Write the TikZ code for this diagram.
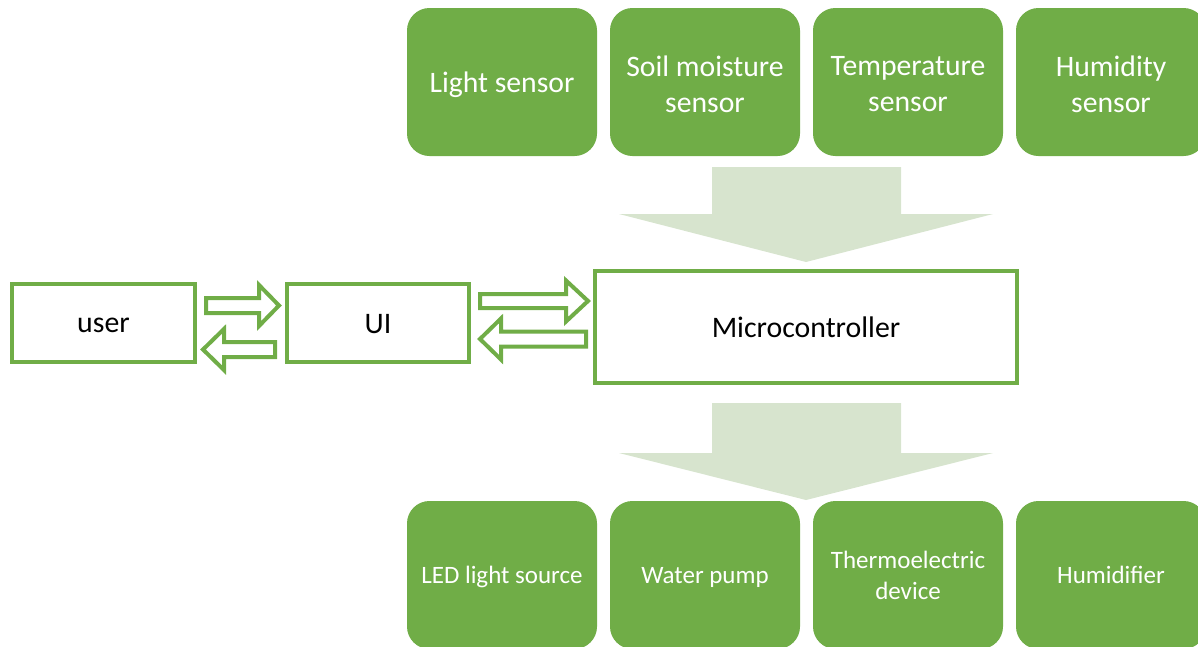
\documentclass[tikz,border=0pt]{standalone}
\usepackage{fontspec}
\setmainfont{Carlito}
\definecolor{grn}{RGB}{112,173,71}
\definecolor{lgrn}{RGB}{215,228,206}
\newcommand{\lowertxt}[2]{\raisebox{-#1}[\height][\depth]{#2}}
\begin{document}
\begin{tikzpicture}[x=1pt,y=-1pt,
  gbox/.style={fill=grn,draw=grn,line width=1pt,rounded corners=22pt,minimum width=189pt,minimum height=147pt,inner sep=0pt,align=center,text=white},
  topfont/.style={font=\fontsize{29.7}{36}\selectfont},
  botfont/.style={font=\fontsize{25}{31}\selectfont},
  obox/.style={draw=grn,line width=4.5pt,fill=white,inner sep=0pt,align=center,text=black,font=\fontsize{29.8}{35}\selectfont},
  harrow/.style={draw=grn,line width=4pt,fill=white,line join=miter},
  bigarrow/.style={fill=lgrn,draw=none}]
\useasboundingbox (0,0) rectangle (1198,646);
\clip (0,0) rectangle (1198,646);
% top sensors
\node[gbox,topfont] (light) at (502,82) {\lowertxt{3pt}{Light sensor}};
\node[gbox,topfont] (soil) at (705,82) {\lowertxt{2pt}{Soil moisture}\\\lowertxt{2pt}{sensor}};
\node[gbox,topfont] (temp) at (908,82) {\lowertxt{2pt}{Temperature}\\\lowertxt{2pt}{sensor}};
\node[gbox,topfont] (hums) at (1111,82) {\lowertxt{2pt}{Humidity}\\\lowertxt{2pt}{sensor}};
% bottom actuators
\node[gbox,botfont] (led) at (502,575) {\lowertxt{2pt}{LED light source}};
\node[gbox,botfont] (pump) at (705,575) {\lowertxt{2pt}{Water pump}};
\node[gbox,botfont] (thermo) at (908,575) {Thermoelectric\\device};
\node[gbox,botfont] (humid) at (1111,575) {Humidifier};
% outlined boxes
\node[obox,minimum width=183pt,minimum height=78pt] (user) at (103.5,323) {\lowertxt{2pt}{user}};
\node[obox,minimum width=182pt,minimum height=78pt] (ui) at (378,323) {\lowertxt{1pt}{UI}};
\node[obox,minimum width=422pt,minimum height=112pt] (mcu) at (806,327) {Microcontroller};
% big light arrows
\fill[bigarrow] (712,167) -- (901,167) -- (901,214) -- (993,214) -- (806,262) -- (619,214) -- (712,214) -- cycle;
\fill[bigarrow] (712,403) -- (901,403) -- (901,453) -- (993,453) -- (806,500) -- (619,453) -- (712,453) -- cycle;
% hollow arrows user <-> UI
\draw[harrow] (206,298) -- (259,298) -- (259,285) -- (279,305.5) -- (259,326) -- (259,313) -- (206,313) -- cycle;
\draw[harrow] (275,342) -- (224,342) -- (224,329) -- (203,349.5) -- (224,370) -- (224,357) -- (275,357) -- cycle;
% hollow arrows UI <-> microcontroller
\draw[harrow] (480,294) -- (566,294) -- (566,280.5) -- (588,301) -- (566,321.5) -- (566,308) -- (480,308) -- cycle;
\draw[harrow] (586,331.5) -- (501,331.5) -- (501,318.5) -- (480,339) -- (501,359.5) -- (501,346.5) -- (586,346.5) -- cycle;
\end{tikzpicture}
\end{document}
